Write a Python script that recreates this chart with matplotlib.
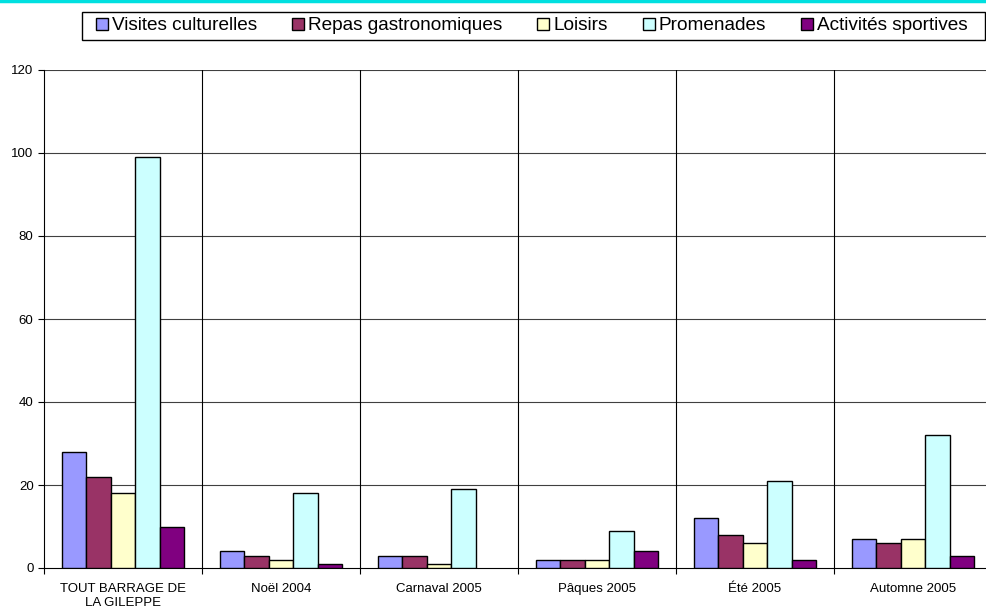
import numpy as np
import matplotlib
matplotlib.use("Agg")
import matplotlib.pyplot as plt
from matplotlib.lines import Line2D
from matplotlib.patches import Rectangle

plt.rcParams['font.family'] = ['Liberation Sans', 'DejaVu Sans']

categories = ["TOUT BARRAGE DE\nLA GILEPPE", "Noël 2004", "Carnaval 2005",
              "Pâques 2005", "Été 2005", "Automne 2005"]
series_names = ["Visites culturelles", "Repas gastronomiques", "Loisirs",
                "Promenades", "Activités sportives"]
visites = [28, 4, 3, 2, 12, 7]
repas = [22, 3, 3, 2, 8, 6]
loisirs = [18, 2, 1, 2, 6, 7]
promenades = [99, 18, 19, 9, 21, 32]
sportives = [10, 1, 0, 4, 2, 3]
colors = ["#9999FF", "#993366", "#FFFFCC", "#CCFFFF", "#800080"]

fig = plt.figure(figsize=(9.86, 6.10), dpi=100)
ax = fig.add_axes([44 / 986, 42 / 610, 948 / 986, 498 / 610])

x = np.arange(len(categories))
w = 0.155
all_series = [visites, repas, loisirs, promenades, sportives]
for i, (vals, col, name) in enumerate(zip(all_series, colors, series_names)):
    # zero-height bars leave no trace in the original
    lws = [1.0 if v > 0 else 0 for v in vals]
    ax.bar(x + (i - 2) * w, vals, width=w, color=col, edgecolor="black",
           linewidth=lws, label=name, zorder=3)

ax.set_xlim(-0.5, len(categories) - 0.5)
ax.set_ylim(0, 120)
ax.set_yticks(range(0, 121, 20))
for y in range(20, 121, 20):
    ax.axhline(y, color="#404040", linewidth=0.8, zorder=1)
for b in np.arange(0.5, len(categories) - 0.5, 1):
    ax.axvline(b, color="black", linewidth=0.8, zorder=1)

ax.set_xticks(np.arange(-0.5, len(categories), 1))
ax.set_xticklabels([])
ax.set_xticks(x, minor=True)
ax.set_xticklabels(categories, minor=True, fontsize=9.5)
ax.tick_params(axis="x", which="minor", length=0, pad=11)
ax.tick_params(axis="x", which="major", length=4, direction="out", width=0.8)
ax.tick_params(axis="y", length=4, direction="out", width=0.8, labelsize=9.5)

for s in ["top", "right"]:
    ax.spines[s].set_visible(False)
ax.spines["left"].set_linewidth(0.8)
ax.spines["bottom"].set_linewidth(0.8)

leg = fig.legend(loc="center left", bbox_to_anchor=(96 / 986, 1 - 26 / 610),
                 ncol=5, fontsize=13.7, frameon=False,
                 handlelength=0.63, handleheight=0.63,
                 handletextpad=0.2, columnspacing=1.85, borderpad=0,
                 borderaxespad=0)
for h in leg.legend_handles:
    h.set_linewidth(1.0)

fig.add_artist(Rectangle((82 / 986, 1 - 40 / 610), 903 / 986, 28 / 610,
                         transform=fig.transFigure, fill=False,
                         edgecolor="black", linewidth=1.0))
fig.add_artist(Line2D([0, 1], [1 - 1 / 610, 1 - 1 / 610], color="#00E0E0",
                      linewidth=2.5, transform=fig.transFigure))

fig.savefig("out.png", dpi=100)
